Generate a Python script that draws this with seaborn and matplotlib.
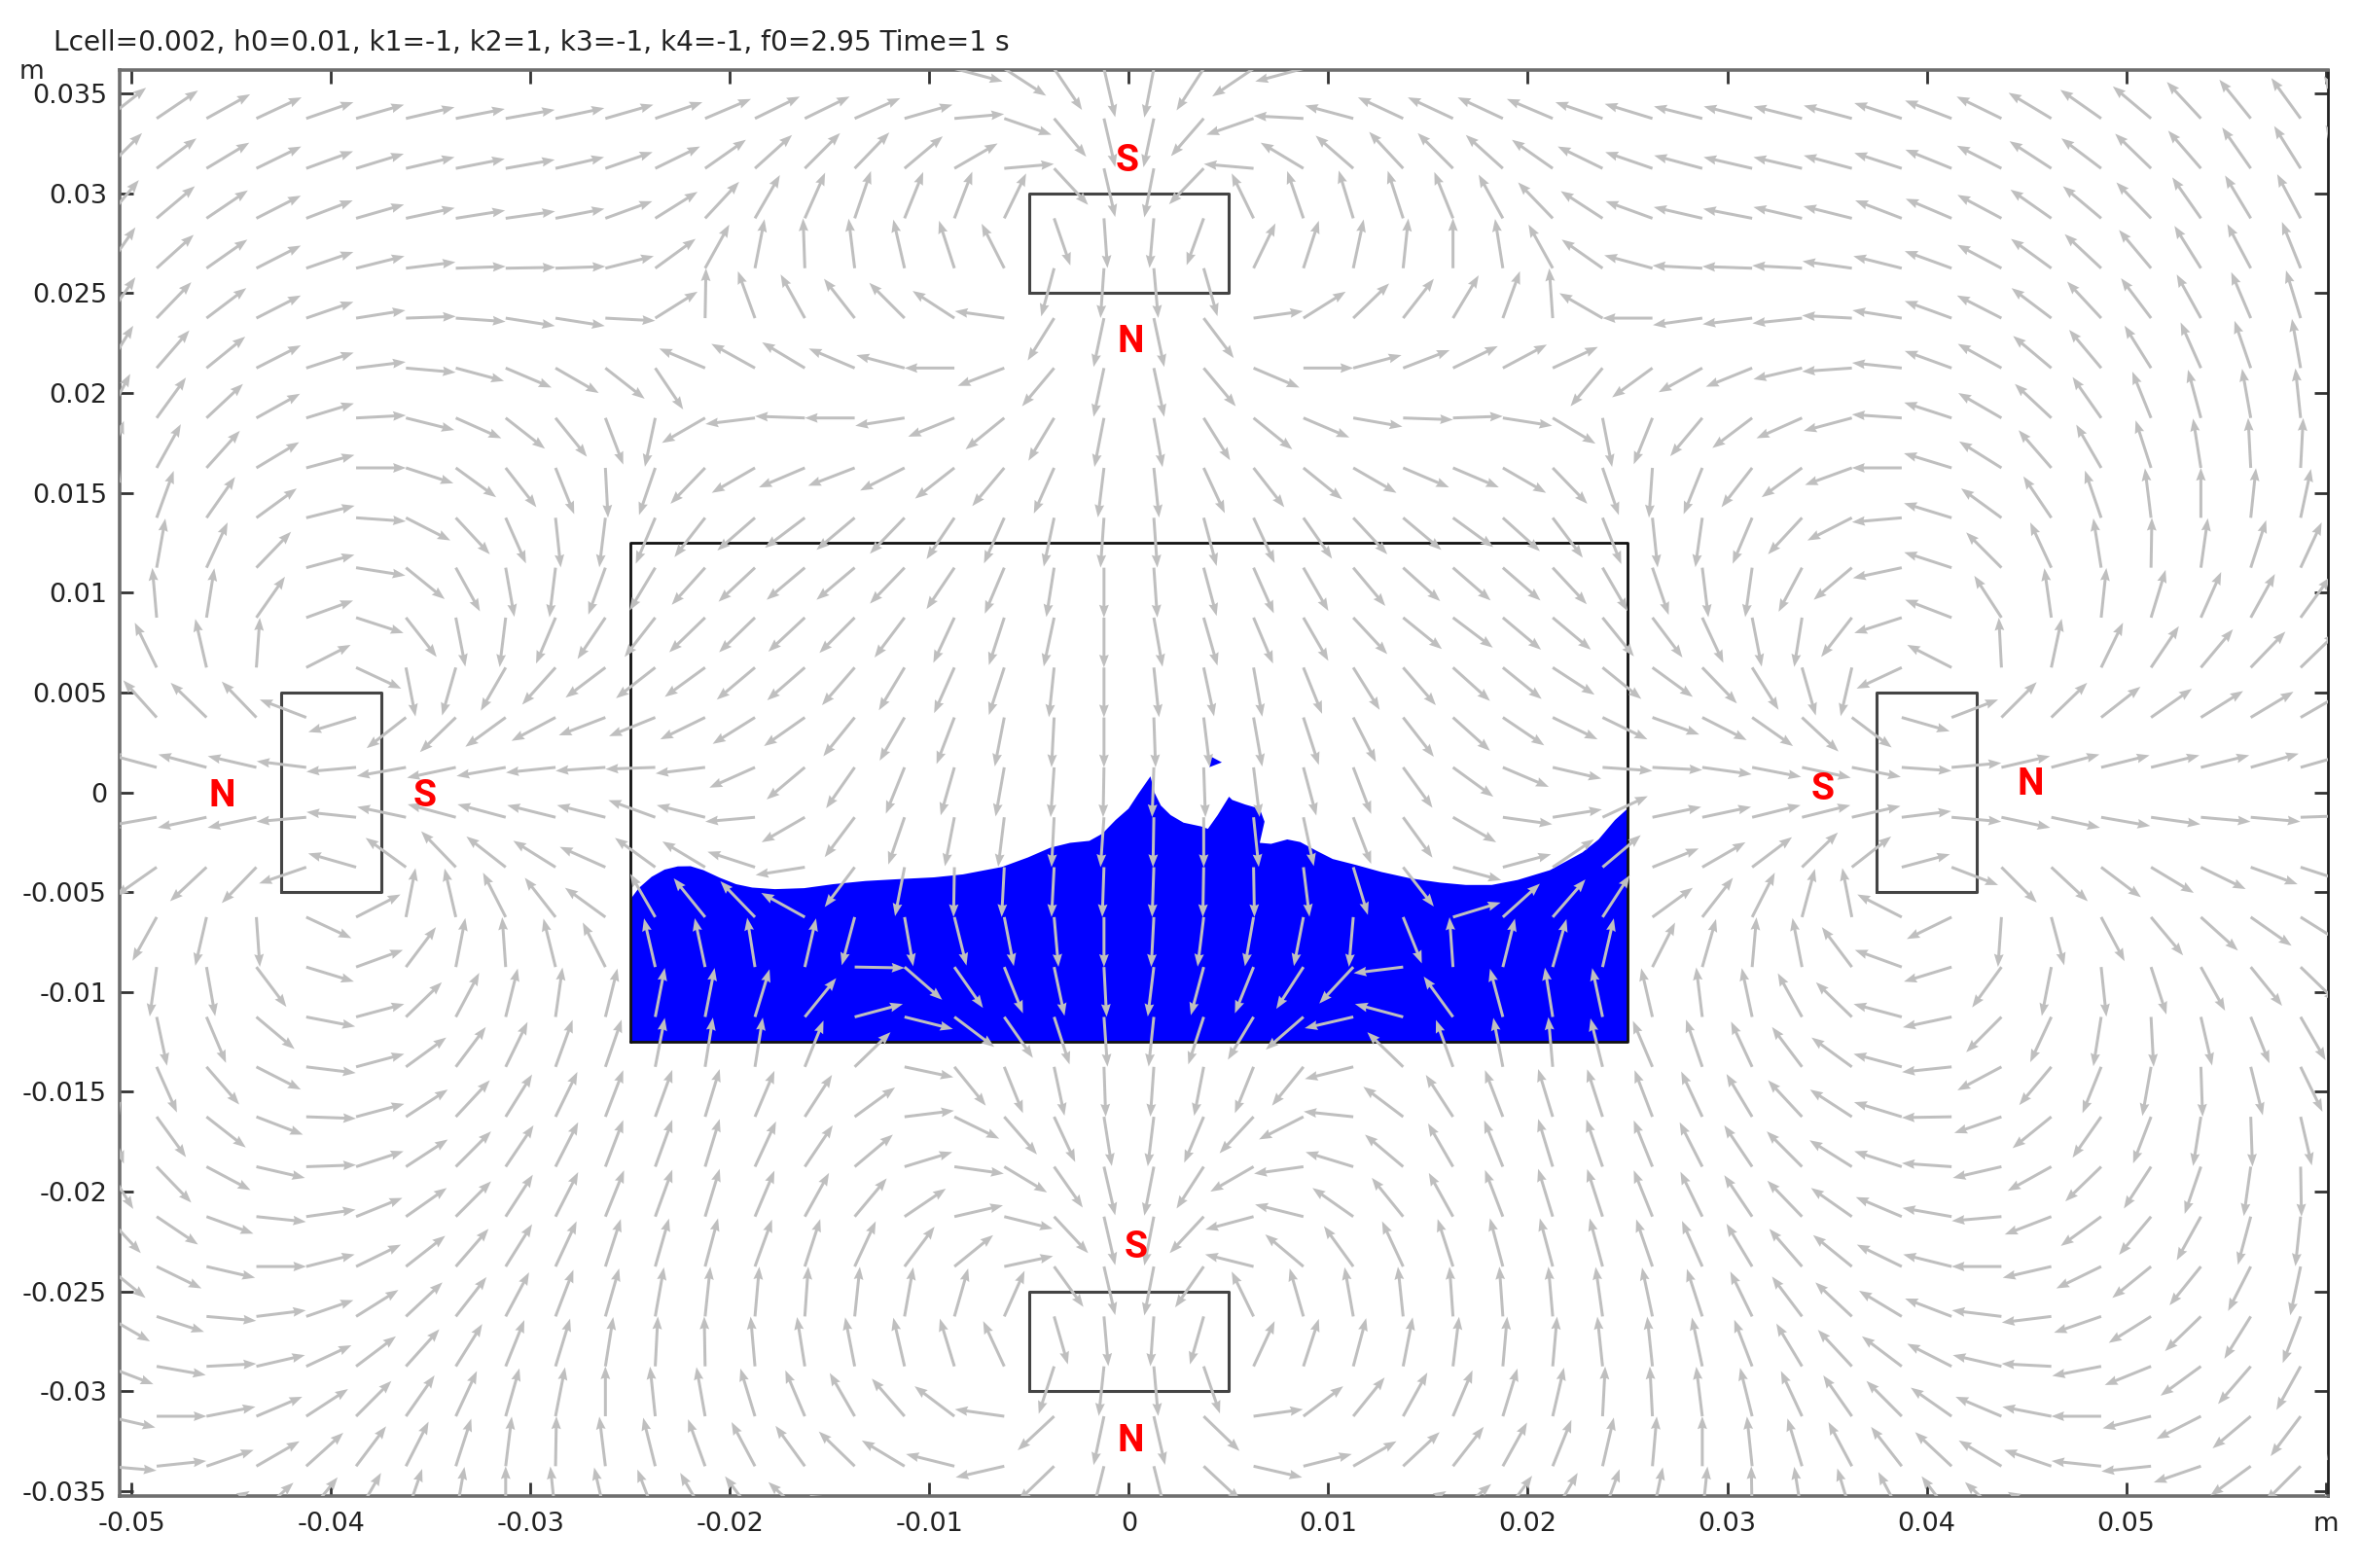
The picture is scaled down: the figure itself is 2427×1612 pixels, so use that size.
import numpy as np
import matplotlib
matplotlib.use("Agg")
import matplotlib.pyplot as plt
import seaborn as sns

# figure size in pixels
W, H = 2427, 1612

title_text = "Lcell=0.002, h0=0.01, k1=-1, k2=1, k3=-1, k4=-1, f0=2.95 Time=1 s"

x_ticks = [-0.05, -0.04, -0.03, -0.02, -0.01, 0, 0.01, 0.02, 0.03, 0.04, 0.05, 0.06]
x_tick_labels = ["-0.05", "-0.04", "-0.03", "-0.02", "-0.01", "0", "0.01", "0.02", "0.03", "0.04", "0.05", "m"]
y_ticks = [-0.035, -0.03, -0.025, -0.02, -0.015, -0.01, -0.005, 0, 0.005, 0.01, 0.015, 0.02, 0.025, 0.03, 0.035]
y_tick_labels = ["-0.035", "-0.03", "-0.025", "-0.02", "-0.015", "-0.01", "-0.005", "0", "0.005", "0.01", "0.015", "0.02", "0.025", "0.03", "0.035"]

# water surface, left wall to right wall
surface_x = [-0.025, -0.02458, -0.02393, -0.02328, -0.02262, -0.02198, -0.02133, -0.02051, -0.0197, -0.01889,
             -0.01775, -0.01628, -0.01482, -0.0132, -0.0114, -0.00978, -0.00832, -0.00637, -0.00506, -0.00393,
             -0.00295, -0.00198, -0.00133, -0.00067, -0.00002, 0.00046, 0.00108, 0.00128, 0.0016, 0.00209,
             0.00274, 0.00363, 0.00396, 0.00445, 0.00502, 0.00518, 0.00583, 0.00656, 0.0068, 0.00656,
             0.00713, 0.00794, 0.00859, 0.00941, 0.01022, 0.01136, 0.01266, 0.01412, 0.01559, 0.01689,
             0.01819, 0.01949, 0.02111, 0.02274, 0.02355, 0.02437, 0.025]
surface_y = [-0.00537, -0.0048, -0.00423, -0.00387, -0.00371, -0.0037, -0.0039, -0.00428, -0.0046, -0.00477,
             -0.00485, -0.0048, -0.0046, -0.00444, -0.00434, -0.00426, -0.00411, -0.00374, -0.00326, -0.00277,
             -0.00253, -0.00243, -0.00207, -0.00139, -0.00082, -0.00009, 0.0008, -0.00001, -0.00066, -0.00114,
             -0.00152, -0.00171, -0.00183, -0.00114, -0.00022, -0.00038, -0.00061, -0.00082, -0.00147, -0.00253,
             -0.00258, -0.00236, -0.00249, -0.00293, -0.00334, -0.00363, -0.00399, -0.00431, -0.00452, -0.00464,
             -0.00464, -0.00439, -0.0039, -0.00301, -0.00236, -0.00139, -0.00082]
droplet_x = [0.00404, 0.00466, 0.00404]
droplet_y = [0.00183, 0.0015, 0.00126]
tank_x = [-0.025, 0.025, 0.025, -0.025, -0.025]
tank_y = [-0.0125, -0.0125, 0.0125, 0.0125, -0.0125]
tank_bottom = -0.0125

# magnets
magnet_top_x = [-0.005, 0.005, 0.005, -0.005, -0.005]
magnet_top_y = [0.025, 0.025, 0.03, 0.03, 0.025]
magnet_bottom_x = [-0.005, 0.005, 0.005, -0.005, -0.005]
magnet_bottom_y = [-0.03, -0.03, -0.025, -0.025, -0.03]
magnet_left_x = [-0.0425, -0.0375, -0.0375, -0.0425, -0.0425]
magnet_left_y = [-0.005, -0.005, 0.005, 0.005, -0.005]
magnet_right_x = [0.0375, 0.0425, 0.0425, 0.0375, 0.0375]
magnet_right_y = [-0.005, -0.005, 0.005, 0.005, -0.005]

pole_text = ["S", "N", "N", "S", "S", "N", "S", "N"]
pole_x = [-0.0001, 0.0001, -0.04546, -0.0353, 0.0348, 0.0452, 0.00037, 0.0001]
pole_y = [0.0316, 0.02258, -0.0002, -0.0002, 0.00014, 0.00038, -0.02278, -0.03249]

# arrow direction in degrees, one list per row of the field, left to right
n = np.nan
ang_p03625 = [n, n, n, n, n, n, n, n, n, n, n, n, n, n, n, n, n, -15, -33, -56, -77, -101, -123, -146, -165,
              n, n, n, n, n, n, n, n, n, n, n, n, n, n, n, n, n, n, n, n, n]
ang_p03375 = [38,34,29,25,19,16,13,11,10,12,16,19,23,26,26,24,16,5,-19,-50,-77,-102,-131,-161,177,165,155,155,155,157,161,163,166,166,166,165,162,159,154,149,145,140,133,129,126,122]
ang_p03125 = [45,37,31,26,20,17,13,11,10,13,19,26,35,42,45,46,40,30,5,-47,-77,-101,-134,175,149,139,133,135,138,145,154,161,165,167,167,165,162,158,153,147,143,136,131,125,122,120]
ang_p02875 = [50,40,34,27,21,16,12,9,8,11,20,32,47,60,66,71,68,69,64,-71,-86,-95,-110,116,109,107,108,112,119,134,147,160,167,169,167,166,159,157,152,145,140,134,125,121,118,116]
ang_p02625 = [55,42,35,27,19,14,7,2,1,2,14,36,61,79,92,97,103,108,117,-105,-94,-85,-74,64,72,78,84,90,99,119,145,165,177,178,177,172,166,160,152,144,137,130,122,118,112,110]
ang_p02375 = [55,46,37,27,19,9,2,-4,-9,-9,-3,32,89,110,119,128,135,147,172,-122,-102,-78,-53,8,32,44,52,59,70,94,150,180,-172,-173,-174,177,171,160,153,143,133,127,119,113,107,105]
ang_p02125 = [58,49,39,27,18,7,-5,-15,-23,-30,-38,-56,157,151,149,157,165,180,-159,-130,-102,-78,-50,-23,0,15,21,26,28,25,-130,-144,-151,-158,-167,-176,174,160,151,140,130,122,114,109,100,98]
ang_p01875 = [62,54,43,29,17,3,-14,-24,-38,-51,-69,-102,-150,-173,178,180,-171,-158,-141,-121,-101,-80,-58,-39,-23,-10,-2,2,-9,-31,-79,-112,-130,-143,-156,-165,176,162,150,137,125,112,105,100,96,94]
ang_p01625 = [70,61,48,31,15,0,-18,-36,-52,-68,-87,-109,-134,-150,-157,-159,-153,-142,-130,-114,-97,-84,-65,-52,-39,-30,-23,-23,-30,-46,-71,-94,-112,-128,-144,-160,180,163,148,131,120,108,99,93,87,85]
ang_p01375 = [75,70,55,36,14,-4,-27,-47,-66,-84,-97,-113,-128,-139,-143,-140,-134,-124,-114,-102,-94,-86,-75,-65,-55,-47,-40,-36,-42,-53,-68,-84,-98,-113,-133,-153,-175,163,144,124,109,97,90,84,78,76]
ang_p01125 = [85,80,65,46,15,-9,-39,-61,-80,-97,-110,-121,-132,-137,-140,-140,-134,-124,-113,-99,-90,-86,-75,-66,-60,-50,-42,-41,-41,-47,-60,-71,-83,-98,-118,-140,-168,162,135,115,99,89,82,72,65,62]
ang_p00875 = [95,95,81,55,20,-18,-52,-79,-97,-113,-124,-128,-136,-136,-137,-135,-127,-115,-108,-102,-90,-80,-74,-67,-60,-47,-39,-37,-40,-40,-51,-53,-65,-79,-99,-128,-162,159,123,98,84,73,66,61,54,50]
ang_p00625 = [105,116,103,86,27,-25,-79,-106,-120,-132,-143,-142,-144,-140,-139,-131,-121,-114,-108,-96,-90,-84,-78,-80,-68,-58,-49,-42,-39,-33,-39,-36,-46,-58,-74,-103,-155,153,93,78,64,56,50,46,44,42]
ang_p00375 = [145,132,136,134,159,-163,-142,-136,-144,-152,-159,-158,-154,-148,-145,-129,-120,-111,-101,-93,-90,-88,-83,-80,-72,-63,-52,-42,-34,-26,-26,-20,-27,-35,-43,-37,-16,21,45,44,38,35,32,31,30,28]
ang_p00125 = [165,165,165,167,173,-175,-170,-168,-170,-174,-176,-178,-173,-156,-140,-125,-112,-106,-100,-94,-91,-92,-88,-83,-75,-69,-54,-36,-23,-13,-4,-3,-8,-11,-12,-11,-4,5,13,15,14,14,14,16,16,15]
ang_m00125 = [-170,-170,-168,-168,-175,174,168,165,165,166,166,160,166,-175,-150,-127,-109,-101,-97,-93,-94,-91,-90,-84,-78,-69,-54,-30,-8,9,25,12,12,14,14,13,7,-5,-12,-12,-10,-8,-5,-5,2,3]
ang_m00375 = [-140,-145,-137,-134,-161,164,144,134,142,148,156,144,149,162,-171,-127,-101,-91,-93,-93,-92,-92,-91,-89,-83,-73,-52,-15,15,34,40,22,30,37,44,38,15,-21,-45,-43,-37,-31,-26,-20,-18,-15]
ang_m00625 = [-115,-119,-103,-86,-25,27,79,103,117,128,144,120,129,134,151,-105,-80,-76,-79,-85,-90,-93,-97,-100,-101,-95,-68,17,42,49,57,36,52,63,75,101,153,-154,-94,-75,-62,-50,-42,-35,-32,-30]
ang_m00875 = [-100,-98,-80,-53,-17,20,53,79,94,104,117,103,102,99,77,-1,-41,-55,-68,-78,-87,-97,-105,-112,-123,-133,-173,94,76,74,77,63,74,85,101,127,160,-163,-126,-101,-84,-72,-61,-51,-44,-40]
ang_m01125 = [-88,-78,-67,-40,-11,15,44,62,76,82,76,79,79,73,51,15,-14,-37,-55,-72,-86,-96,-108,-121,-139,-167,165,126,105,99,102,103,97,102,119,136,165,-168,-135,-115,-99,-87,-77,-68,-60,-55]
ang_m01375 = [-75,-66,-49,-27,-7,15,36,53,64,70,71,79,81,81,68,44,-12,-51,-68,-78,-88,-94,-101,-112,-129,-166,136,110,101,95,104,113,109,115,127,144,165,-174,-152,-130,-112,-100,-88,-76,-64,-58]
ang_m01625 = [-70,-54,-38,-21,-2,15,33,47,58,64,69,70,73,67,57,36,7,-26,-49,-65,-81,-97,-113,-133,-153,174,143,123,111,107,108,111,115,121,133,147,163,-179,-161,-141,-125,-111,-99,-88,-77,-70]
ang_m01875 = [-58,-46,-28,-13,2,18,33,45,56,63,69,70,73,65,56,40,17,-8,-31,-55,-77,-101,-123,-150,-172,163,140,120,112,107,109,112,117,124,135,148,162,176,-167,-151,-136,-123,-109,-98,-89,-80]
ang_m02125 = [-47,-34,-20,-6,8,22,35,45,57,63,68,70,73,67,61,50,34,13,-14,-47,-77,-101,-133,-165,166,145,129,119,111,107,108,112,116,124,134,145,157,170,-175,-159,-144,-130,-119,-105,-96,-90]
ang_m02375 = [-39,-26,-13,0,14,26,38,49,58,65,72,74,75,70,72,65,53,39,12,-54,-77,-101,-125,166,140,126,115,108,105,105,105,109,114,121,131,141,154,166,180,-167,-154,-141,-129,-117,-102,-95]
ang_m02625 = [-30,-18,-5,7,19,32,43,52,62,69,74,80,84,85,86,84,80,74,66,-74,-85,-94,-106,116,106,100,96,94,94,95,98,102,108,116,127,137,149,159,173,-173,-161,-148,-136,-122,-111,-105]
ang_m02875 = [-21,-10,3,13,25,37,48,58,68,73,81,87,91,95,99,101,103,107,115,-108,-96,-85,-71,65,72,75,79,83,85,85,96,96,102,111,121,133,143,153,167,177,-169,-158,-144,-131,-119,-112]
ang_m03125 = [-13,0,11,23,33,45,55,65,74,79,90,96,100,107,113,120,131,143,172,-137,-102,-77,-44,8,37,51,61,67,73,77,87,93,97,104,115,125,135,145,157,169,180,-166,-153,-140,-127,-118]
ang_m03375 = [-5,6,19,30,42,53,63,72,83,89,97,104,110,118,126,136,149,166,-167,-136,-104,-76,-43,-13,14,30,43,52,61,68,77,85,90,96,107,118,128,137,149,161,174,-174,-161,-144,-135,-125]
ang_m03625 = [n,n,30,42,51,60,71,80,90,96,103,111,120,127,137,155,n,n,n,n,n,n,n,n,n,n,30,40,54,60,70,78,84,91,99,107,118,127,137,151,n,n,n,n,n,n]

angles = np.array([ang_p03625, ang_p03375, ang_p03125, ang_p02875, ang_p02625, ang_p02375, ang_p02125, ang_p01875,
                   ang_p01625, ang_p01375, ang_p01125, ang_p00875, ang_p00625, ang_p00375, ang_p00125, ang_m00125,
                   ang_m00375, ang_m00625, ang_m00875, ang_m01125, ang_m01375, ang_m01625, ang_m01875, ang_m02125,
                   ang_m02375, ang_m02625, ang_m02875, ang_m03125, ang_m03375, ang_m03625], dtype=float)

spacing = 0.0025
grid_x = -0.05125 + spacing * np.arange(angles.shape[1])
grid_y = 0.03625 - spacing * np.arange(angles.shape[0])
X, Y = np.meshgrid(grid_x, grid_y)
ok = ~np.isnan(angles)
U = spacing * np.cos(np.radians(angles[ok]))
V = spacing * np.sin(np.radians(angles[ok]))

sns.set_style("ticks")
plt.rcParams["font.family"] = ["DejaVu Sans"]

fig = plt.figure(figsize=(W / 100, H / 100), dpi=100)
ax = fig.add_axes([122.5 / W, 1 - 1537.5 / H, (2393 - 122.5) / W, (1537.5 - 71.5) / H])

# water
ax.fill(surface_x + [0.025, -0.025], surface_y + [tank_bottom, tank_bottom], color="#0000ff", lw=0, zorder=1)
ax.fill(droplet_x, droplet_y, color="#0000ff", lw=0, zorder=1)

# outlines
sns.lineplot(x=tank_x, y=tank_y, sort=False, estimator=None, color="#111111", lw=2.0, ax=ax, zorder=2)
for mx, my in [(magnet_top_x, magnet_top_y), (magnet_bottom_x, magnet_bottom_y),
               (magnet_left_x, magnet_left_y), (magnet_right_x, magnet_right_y)]:
    sns.lineplot(x=mx, y=my, sort=False, estimator=None, color="#444444", lw=2.2, ax=ax, zorder=2)

# field arrows
ax.quiver(X[ok], Y[ok], U, V, angles="xy", scale_units="xy", scale=1, units="dots", width=3.0,
          headwidth=3.3, headlength=4.4, headaxislength=4.0, color="#bfbfbf", zorder=3)

for t, px, py in zip(pole_text, pole_x, pole_y):
    ax.text(px, py, t, color="#ff0000", fontsize=28, fontweight="bold", ha="center", va="center",
            family=["Roboto", "DejaVu Sans"], zorder=4)

ax.set_xlim(-0.05063, 0.06012)
ax.set_ylim(-0.03522, 0.0362)
ax.set_xticks(x_ticks)
ax.set_xticklabels(x_tick_labels)
ax.set_yticks(y_ticks)
ax.set_yticklabels(y_tick_labels)
ax.tick_params(axis="x", direction="in", length=10, width=2, color="#333333", labelcolor="#222222",
               labelsize=19.5, pad=12, top=True)
ax.tick_params(axis="y", direction="in", length=10, width=2, color="#333333", labelcolor="#222222",
               labelsize=19.5, pad=9, right=True)
ax.set_xlabel("")
ax.set_ylabel("")
for side in ["left", "top", "bottom"]:
    ax.spines[side].set_color("#6e6e6e")
    ax.spines[side].set_linewidth(2.6)
ax.spines["right"].set_color("#222222")
ax.spines["right"].set_linewidth(2.0)

fig.text(55 / W, 1 - 44 / H, title_text, fontsize=20.2, color="#222222", ha="left", va="center")
fig.text(33 / W, 1 - 74 / H, "m", fontsize=19, color="#222222", ha="center", va="center")

fig.savefig("out.png", dpi=100, facecolor="white")
